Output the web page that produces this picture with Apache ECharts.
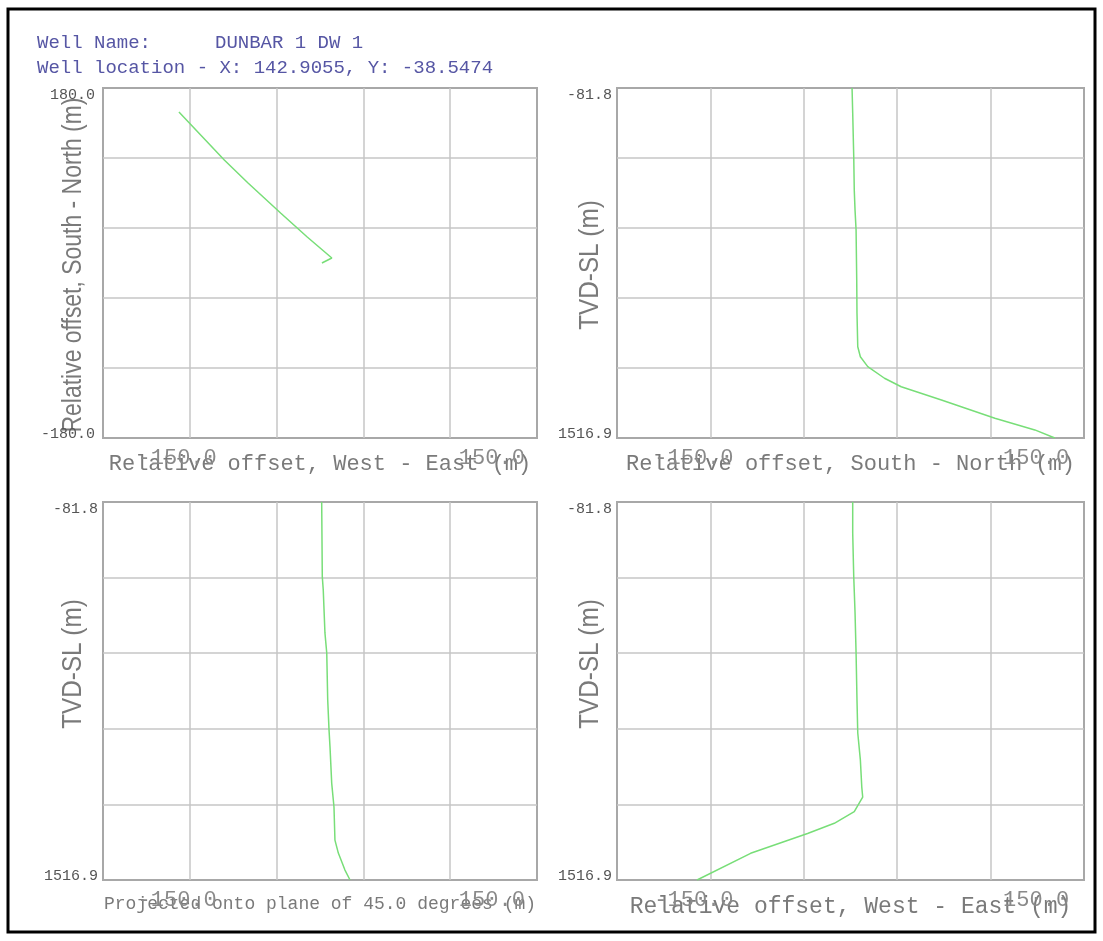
<!DOCTYPE html>
<html><head><meta charset="utf-8">
<script src="https://cdn.jsdelivr.net/npm/echarts@6/dist/echarts.min.js"></script>
<style>html,body{margin:0;padding:0;background:#fff}#c{width:1103px;height:941px}</style>
</head><body><div id="c"></div>
<script>
// ---- text ----
const headerName = 'Well Name:';
const headerWell = 'DUNBAR 1 DW 1';
const headerLoc = 'Well location - X: 142.9055, Y: -38.5474';
const xNames = ['Relative offset, West - East (m)', 'Relative offset, South - North (m)',
                'Projected onto plane of 45.0 degrees (m)', 'Relative offset, West - East (m)'];
const yNames = ['Relative offset, South - North (m)', 'TVD-SL (m)', 'TVD-SL (m)', 'TVD-SL (m)'];

// ---- tick labels ----
const offsetTickValues = [-150, 150];
const offsetTickLabels = ['-150.0', '150.0'];
const nsTickValues = [180, -180];
const nsTickLabels = ['180.0', '-180.0'];
const tvdTickValues = [-81.8, 1516.9];
const tvdTickLabels = ['-81.8', '1516.9'];

// ---- plan view (panel 1): East vs North (m) ----
const planEast  = [1.6, 9.8, -10.6, -32.7, -59.7, -79.4, -117];
const planNorth = [0,   5.1,  26.7,  51.4,  82.3, 106,   155.3];

// ---- section South-North (panel 2) ----
const snDepth = [-81.8, 32, 232, 384, 476, 567, 795, 946, 1100, 1146, 1191, 1244, 1283, 1343, 1427, 1480, 1516.9];
const snNorth = [1.2, 1.7, 2.5, 2.9, 3.5, 4.3, 4.8, 5.0, 5.6, 7.6, 13.3, 26.2, 39.1, 70.1, 111.3, 142.1, 157.5];

// ---- projected onto 45 deg plane (panel 3) ----
const pjDepth  = [-81.8, 234, 290, 472, 557, 756, 883, 954, 1107, 1208, 1348, 1403, 1475, 1516.9];
const pjOffset = [1.4, 1.9, 2.7, 4.1, 5.6, 6.4, 7.5, 8.3, 9.7, 11.6, 12.4, 15.2, 20.7, 24.9];

// ---- section West-East (panel 4) ----
const weDepth = [-81.8, 49, 234, 387, 557, 756, 895, 1009, 1124, 1166, 1228, 1277, 1320, 1404, 1516.9];
const weEast  = [1.7, 1.7, 2.5, 3.5, 4.3, 5.0, 5.6, 7.6, 8.7, 9.4, 2.9, -12.5, -33.1, -77, -118.3];

// ---- build ----
const chart = echarts.init(document.getElementById('c'), null, {renderer: 'canvas'});
const GREEN = '#78de78';
const GRID_C = '#c6c6c6';
const grids = [
  {left: 103, top: 88, width: 434, height: 350},
  {left: 617, top: 88, width: 467, height: 350},
  {left: 103, top: 502, width: 434, height: 378},
  {left: 617, top: 502, width: 467, height: 378}
].map(g => Object.assign({show: true, borderColor: '#a8a8a8', borderWidth: 2, backgroundColor: 'transparent'}, g));

const xNameSizes = [22, 22, 18, 23];
function xAxis(i) {
  return {
    type: 'value', gridIndex: i, min: -180, max: 180, interval: 72,
    axisLine: {show: false}, axisTick: {show: false},
    splitLine: {show: true, showMinLine: false, showMaxLine: false, lineStyle: {color: GRID_C, width: 1.5}},
    axisLabel: {
      customValues: offsetTickValues, margin: 9,
      formatter: v => { const k = offsetTickValues.indexOf(v); return k === 0 ? '{l|' + offsetTickLabels[k] + '}' : '{r|' + offsetTickLabels[k] + '}'; },
      rich: {
        l: {fontFamily: 'Liberation Mono', fontSize: 22, color: '#8a8a8a', padding: [0, 0, 0, 76]},
        r: {fontFamily: 'Liberation Mono', fontSize: 22, color: '#8a8a8a', padding: [0, 18, 0, 0]}
      }
    },
    name: xNames[i], nameLocation: 'middle', nameGap: 15, nameMoveOverlap: false,
    nameTextStyle: {fontFamily: 'Liberation Mono', fontSize: xNameSizes[i], color: '#7a7a7a'}
  };
}
function yAxis(i) {
  const isNS = i === 0;
  const vals = isNS ? nsTickValues : tvdTickValues;
  const labs = isNS ? nsTickLabels : tvdTickLabels;
  const base = isNS ? {min: -180, max: 180, interval: 72, inverse: false}
                    : {min: tvdTickValues[0], max: tvdTickValues[1], interval: (tvdTickValues[1] - tvdTickValues[0]) / 5, inverse: true};
  return Object.assign({
    type: 'value', gridIndex: i,
    axisLine: {show: false}, axisTick: {show: false},
    splitLine: {show: true, showMinLine: false, showMaxLine: false, lineStyle: {color: GRID_C, width: 1.5}},
    axisLabel: {
      customValues: vals, margin: isNS ? 8 : 5,
      formatter: v => { const k = vals.indexOf(v); return k === 0 ? '{t|' + labs[k] + '}' : '{b|' + labs[k] + '}'; },
      rich: {
        t: {fontFamily: 'Liberation Mono', fontSize: 15, color: '#555', padding: [14, 0, 0, 0]},
        b: {fontFamily: 'Liberation Mono', fontSize: 15, color: '#555', padding: [0, 0, 8, 0]}
      }
    }
  }, base);
}
function pairs(xs, ys) { return xs.map((x, k) => [x, ys[k]]); }
function line(i, data) {
  return {type: 'line', xAxisIndex: i, yAxisIndex: i, data: data, showSymbol: false, symbol: 'none',
          lineStyle: {color: GREEN, width: 1.5}, silent: true};
}

const yNamePos = [[74, 265, 0.85], [591, 265, 0.9], [74, 664, 0.9], [591, 664, 0.9]];
const graphics = [
  {type: 'rect', shape: {x: 8, y: 9, width: 1087, height: 923}, style: {fill: 'none', stroke: '#000', lineWidth: 3}, z: 100},
  {type: 'text', x: 37, y: 43, style: {text: headerName, font: '19px "Liberation Mono"', fill: '#5656a4', verticalAlign: 'middle'}},
  {type: 'text', x: 215, y: 43, style: {text: headerWell, font: '19px "Liberation Mono"', fill: '#5656a4', verticalAlign: 'middle'}},
  {type: 'text', x: 37, y: 68, style: {text: headerLoc, font: '19px "Liberation Mono"', fill: '#5656a4', verticalAlign: 'middle'}}
];
yNames.forEach((n, i) => {
  graphics.push({type: 'text', x: yNamePos[i][0], y: yNamePos[i][1], rotation: Math.PI / 2, scaleX: yNamePos[i][2],
    style: {text: n, font: '27px "Liberation Sans"', fill: '#7a7a7a', align: 'center', verticalAlign: 'middle'}});
});

chart.setOption({
  animation: false,
  backgroundColor: '#ffffff',
  grid: grids,
  xAxis: [0, 1, 2, 3].map(xAxis),
  yAxis: [0, 1, 2, 3].map(yAxis),
  series: [
    line(0, pairs(planEast, planNorth)),
    line(1, pairs(snNorth, snDepth)),
    line(2, pairs(pjOffset, pjDepth)),
    line(3, pairs(weEast, weDepth))
  ],
  graphic: graphics
});
</script></body></html>
